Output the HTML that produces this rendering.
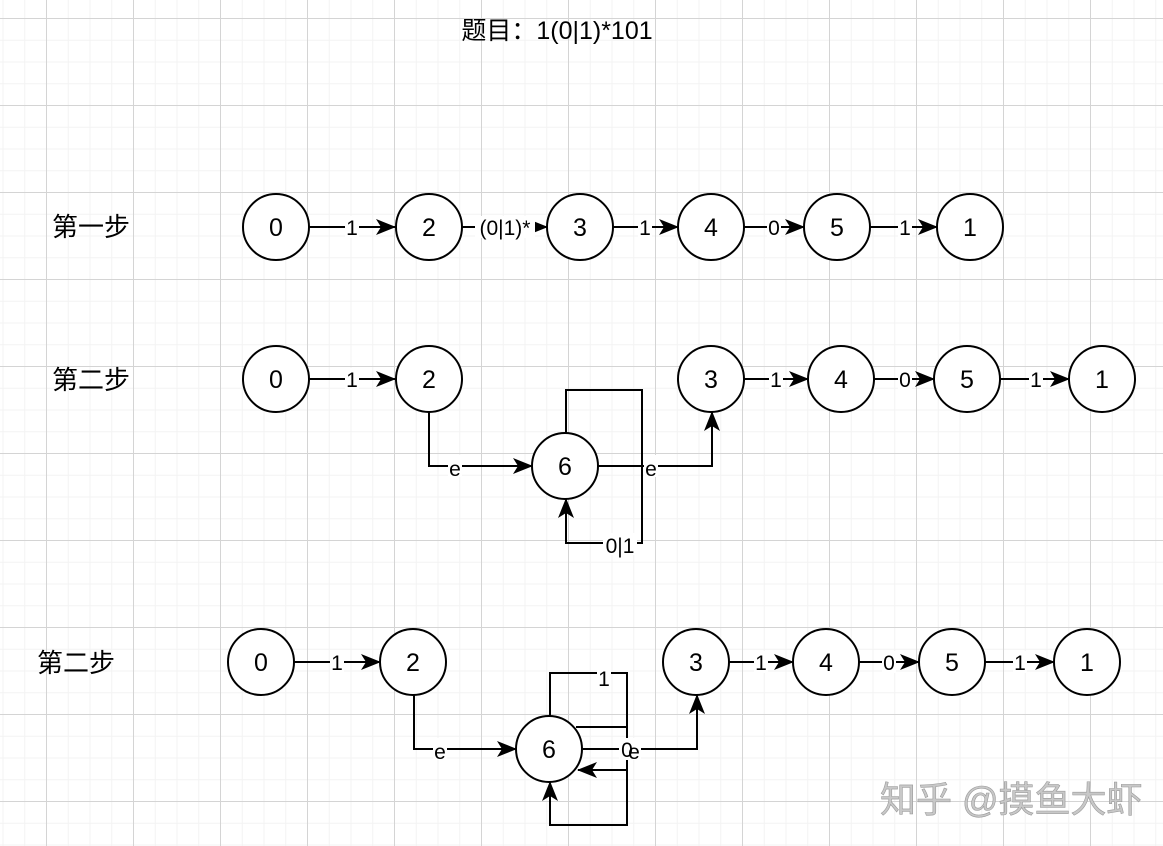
<!DOCTYPE html>
<html><head><meta charset="utf-8"><style>
html,body{margin:0;padding:0;background:#fff;}
svg{display:block;}
text{font-family:"Liberation Sans","Noto Sans CJK SC",sans-serif;}
</style></head><body>
<svg width="1163" height="846" viewBox="0 0 1163 846" xmlns="http://www.w3.org/2000/svg">
<defs>
<pattern id="minor" width="21.75" height="21.75" patternUnits="userSpaceOnUse" x="2.5" y="-3.75">
<path d="M0 0.5H21.75M0.5 0V21.75" stroke="#f3f3f3" stroke-width="1" fill="none"/>
</pattern>
<pattern id="major" width="87" height="87" patternUnits="userSpaceOnUse" x="46" y="18">
<path d="M0 0.5H87M0.5 0V87" stroke="#d4d4d4" stroke-width="1" fill="none"/>
</pattern>
<marker id="a" markerWidth="20" markerHeight="16" refX="19" refY="8" orient="auto" markerUnits="userSpaceOnUse">
<path d="M0 0L20 8L0 16L5 8Z" fill="#000"/>
</marker>
</defs>
<rect width="1163" height="846" fill="#fff"/>
<rect width="1163" height="846" fill="url(#minor)"/>
<rect width="1163" height="846" fill="url(#major)"/>

<text x="557" y="39" font-size="25" text-anchor="middle">题目：1(0|1)*101</text>
<text x="52" y="236" font-size="26">第一步</text>
<text x="52" y="389" font-size="26">第二步</text>
<text x="37" y="672" font-size="26">第二步</text>

<g stroke="#000" stroke-width="2" fill="none">
<line x1="309" y1="227" x2="395" y2="227" marker-end="url(#a)"/>
<line x1="461" y1="227" x2="547" y2="227" marker-end="url(#a)"/>
<line x1="613" y1="227" x2="678" y2="227" marker-end="url(#a)"/>
<line x1="744" y1="227" x2="804" y2="227" marker-end="url(#a)"/>
<line x1="870" y1="227" x2="937" y2="227" marker-end="url(#a)"/>
<line x1="309" y1="379" x2="395" y2="379" marker-end="url(#a)"/>
<line x1="744" y1="379" x2="808" y2="379" marker-end="url(#a)"/>
<line x1="874" y1="379" x2="934" y2="379" marker-end="url(#a)"/>
<line x1="1000" y1="379" x2="1069" y2="379" marker-end="url(#a)"/>
<path d="M429 412V466H532" marker-end="url(#a)"/>
<path d="M598 466H712V412" marker-end="url(#a)"/>
<path d="M566 433V390H642V543H566V499" marker-end="url(#a)"/>
<line x1="294" y1="662" x2="380" y2="662" marker-end="url(#a)"/>
<line x1="729" y1="662" x2="793" y2="662" marker-end="url(#a)"/>
<line x1="859" y1="662" x2="919" y2="662" marker-end="url(#a)"/>
<line x1="985" y1="662" x2="1054" y2="662" marker-end="url(#a)"/>
<path d="M414 695V749H516" marker-end="url(#a)"/>
<path d="M583 749H697V695" marker-end="url(#a)"/>
<path d="M550 716V673H627V825H550V782" marker-end="url(#a)"/>
<path d="M576 727H627"/>
<path d="M627 770H578" marker-end="url(#a)"/>
</g>

<g fill="#fff" stroke="#000" stroke-width="2">
<circle cx="276" cy="227" r="33"/><circle cx="429" cy="227" r="33"/><circle cx="580" cy="227" r="33"/>
<circle cx="711" cy="227" r="33"/><circle cx="837" cy="227" r="33"/><circle cx="970" cy="227" r="33"/>
<circle cx="276" cy="379" r="33"/><circle cx="429" cy="379" r="33"/><circle cx="565" cy="466" r="33"/>
<circle cx="711" cy="379" r="33"/><circle cx="841" cy="379" r="33"/><circle cx="967" cy="379" r="33"/><circle cx="1102" cy="379" r="33"/>
<circle cx="261" cy="662" r="33"/><circle cx="413" cy="662" r="33"/><circle cx="549" cy="749" r="33"/>
<circle cx="696" cy="662" r="33"/><circle cx="826" cy="662" r="33"/><circle cx="952" cy="662" r="33"/><circle cx="1087" cy="662" r="33"/>
</g>

<g font-size="25" text-anchor="middle">
<text x="276" y="236">0</text><text x="429" y="236">2</text><text x="580" y="236">3</text>
<text x="711" y="236">4</text><text x="837" y="236">5</text><text x="970" y="236">1</text>
<text x="276" y="388">0</text><text x="429" y="388">2</text><text x="565" y="475">6</text>
<text x="711" y="388">3</text><text x="841" y="388">4</text><text x="967" y="388">5</text><text x="1102" y="388">1</text>
<text x="261" y="671">0</text><text x="413" y="671">2</text><text x="549" y="758">6</text>
<text x="696" y="671">3</text><text x="826" y="671">4</text><text x="952" y="671">5</text><text x="1087" y="671">1</text>
</g>

<g font-size="21" text-anchor="middle">
<rect x="345" y="216" width="14" height="22" fill="#fff"/><text x="352" y="235">1</text>
<rect x="475" y="216" width="60" height="22" fill="#fff"/><text x="505" y="235">(0|1)*</text>
<rect x="638" y="216" width="14" height="22" fill="#fff"/><text x="645" y="235">1</text>
<rect x="767" y="216" width="14" height="22" fill="#fff"/><text x="774" y="235">0</text>
<rect x="898" y="216" width="14" height="22" fill="#fff"/><text x="905" y="235">1</text>

<rect x="345" y="368" width="14" height="22" fill="#fff"/><text x="352" y="387">1</text>
<rect x="769" y="368" width="14" height="22" fill="#fff"/><text x="776" y="387">1</text>
<rect x="898" y="368" width="14" height="22" fill="#fff"/><text x="905" y="387">0</text>
<rect x="1029" y="368" width="14" height="22" fill="#fff"/><text x="1036" y="387">1</text>
<rect x="448" y="455" width="14" height="22" fill="#fff"/><text x="455" y="476">e</text>
<rect x="644" y="455" width="14" height="22" fill="#fff"/><text x="651" y="476">e</text>
<rect x="603" y="533" width="34" height="22" fill="#fff"/><text x="620" y="553">0|1</text>

<rect x="330" y="651" width="14" height="22" fill="#fff"/><text x="337" y="670">1</text>
<rect x="754" y="651" width="14" height="22" fill="#fff"/><text x="761" y="670">1</text>
<rect x="882" y="651" width="14" height="22" fill="#fff"/><text x="889" y="670">0</text>
<rect x="1013" y="651" width="14" height="22" fill="#fff"/><text x="1020" y="670">1</text>
<rect x="433" y="738" width="14" height="22" fill="#fff"/><text x="440" y="759">e</text>
<rect x="597" y="666" width="14" height="22" fill="#fff"/><text x="604" y="686">1</text>
<rect x="619" y="738" width="22" height="22" fill="#fff"/><text x="634" y="759">e</text><text x="627" y="757">0</text>
</g>

<text x="880" y="812" font-size="36" fill="#c8c8c8" stroke="#9a9a9a" stroke-width="0.6">知乎 @摸鱼大虾</text>
</svg>
</body></html>
